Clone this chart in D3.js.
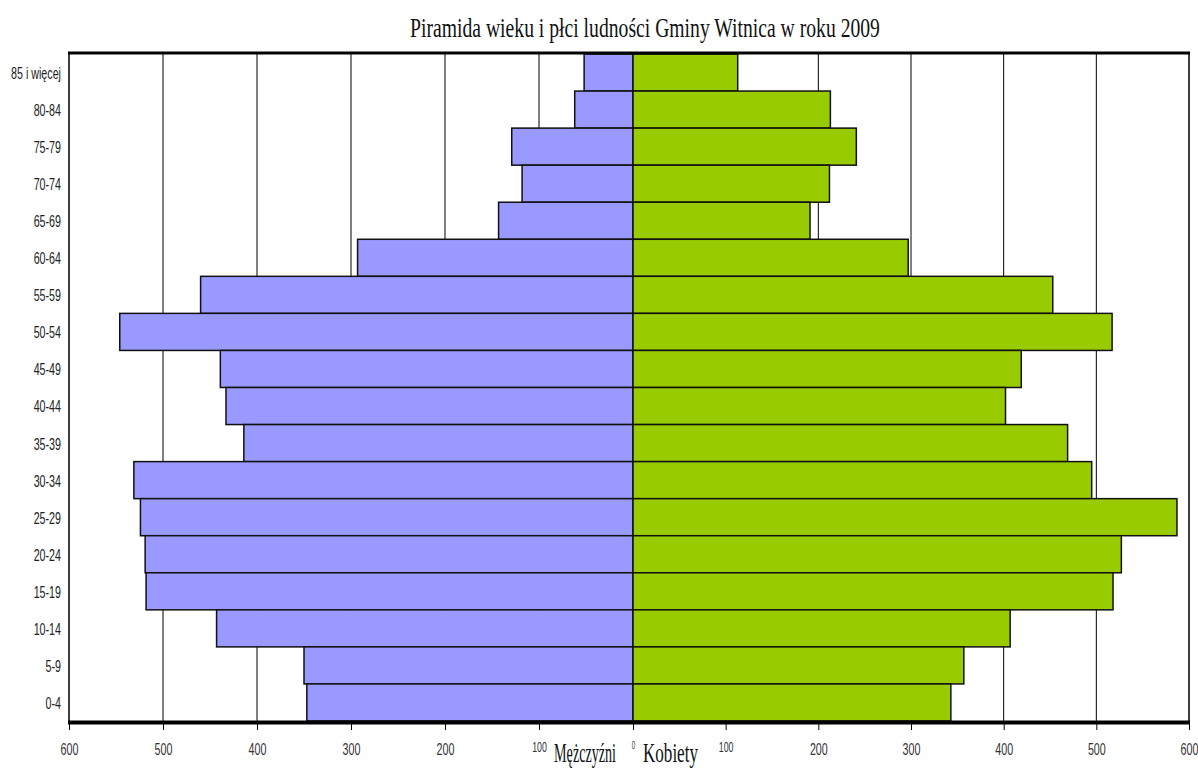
<!DOCTYPE html>
<html><head><meta charset="utf-8">
<script src="https://cdn.jsdelivr.net/npm/d3@7"></script>
<style>
html,body{margin:0;padding:0;background:#fff;}
svg{display:block;}
</style></head>
<body>
<script>
const ageGroups = ["85 i więcej","80-84","75-79","70-74","65-69","60-64","55-59","50-54","45-49","40-44","35-39","30-34","25-29","20-24","15-19","10-14","5-9","0-4"];
const male   = [52, 62, 129, 118, 143, 293, 460, 546, 439, 433, 414, 531, 524, 519, 518, 443, 350, 347];
const female = [113, 213, 241, 212, 191, 297, 453, 517, 419, 402, 469, 495, 587, 527, 518, 407, 357, 343];
const tickValues = [0, 100, 200, 300, 400, 500, 600];
const title = "Piramida wieku i płci ludności Gminy Witnica w roku 2009";
const leftLabel = "Mężczyźni";
const rightLabel = "Kobiety";

const W = 1198, H = 769;
const svg = d3.select("body").append("svg").attr("width", W).attr("height", H);

const SANS = "'Liberation Sans',Arial,sans-serif";
const SERIF = "'Liberation Serif','Times New Roman',serif";
const SQUEEZE = 0.63;

const x0 = 633, plotTop = 54, plotBottom = 721;
const xL = d3.scaleLinear().domain([0, 600]).range([x0, 69]);
const xR = d3.scaleLinear().domain([0, 600]).range([x0, 1189]);
const y = d3.scaleBand().domain(ageGroups).range([plotTop, plotBottom]).padding(0);

// gridlines
const grid = svg.append("g");
tickValues.filter(d => d > 0).forEach(d => {
  [xL(d), xR(d)].forEach(px => {
    grid.append("line").attr("x1", px).attr("x2", px).attr("y1", plotTop).attr("y2", plotBottom)
      .attr("stroke", "#000").attr("stroke-width", 1);
  });
});

// bars
svg.append("g").selectAll("rect").data(ageGroups).join("rect")
  .attr("x", (d, i) => xL(male[i]))
  .attr("width", (d, i) => xL(0) - xL(male[i]))
  .attr("y", d => y(d))
  .attr("height", y.bandwidth())
  .attr("fill", "#9999FF").attr("stroke", "#111").attr("stroke-width", 1.5);

svg.append("g").selectAll("rect").data(ageGroups).join("rect")
  .attr("x", xR(0))
  .attr("width", (d, i) => xR(female[i]) - xR(0))
  .attr("y", d => y(d))
  .attr("height", y.bandwidth())
  .attr("fill", "#99CC00").attr("stroke", "#111").attr("stroke-width", 1.5);

// frame
svg.append("line").attr("x1", 68).attr("x2", 1190).attr("y1", plotTop - 1).attr("y2", plotTop - 1)
  .attr("stroke", "#000").attr("stroke-width", 3);
svg.append("line").attr("x1", 69).attr("x2", 69).attr("y1", plotTop).attr("y2", plotBottom).attr("stroke", "#000").attr("stroke-width", 1);
svg.append("line").attr("x1", 1189).attr("x2", 1189).attr("y1", plotTop).attr("y2", plotBottom).attr("stroke", "#000").attr("stroke-width", 1);

// x axes
function styleAxis(g) {
  g.select(".domain").remove();
  g.selectAll(".tick line").attr("stroke", "#000").attr("stroke-width", 1);
  g.selectAll(".tick text").attr("fill", "#333")
    .style("font-family", SANS).style("font-size", "17px")
    .attr("x", 0).attr("y", 0).attr("dy", 0)
    .attr("transform", `translate(0,31) scale(${SQUEEZE},1)`);
  g.selectAll(".tick text").filter(d => d === 100).style("font-size", "14px")
    .attr("transform", `translate(0,28) scale(${SQUEEZE},1)`);
  g.selectAll(".tick text").filter(d => d === 0).style("font-size", "10px")
    .attr("transform", `translate(0,25) scale(${SQUEEZE},1)`);
}
svg.append("g").attr("transform", `translate(0,${plotBottom + 3})`)
  .call(d3.axisBottom(xL).tickValues(tickValues).tickSize(6).tickFormat(d3.format("d")))
  .call(styleAxis);
svg.append("g").attr("transform", `translate(0,${plotBottom + 3})`)
  .call(d3.axisBottom(xR).tickValues(tickValues.filter(d => d > 0)).tickSize(6).tickFormat(d3.format("d")))
  .call(styleAxis);

// bottom thick line
svg.append("line").attr("x1", 68).attr("x2", 1190).attr("y1", plotBottom + 1.5).attr("y2", plotBottom + 1.5)
  .attr("stroke", "#000").attr("stroke-width", 4);

// y axis
const ya = svg.append("g").attr("transform", `translate(61,0)`)
  .call(d3.axisLeft(y).tickSize(0).tickPadding(0));
ya.select(".domain").remove();
ya.selectAll("text").attr("fill", "#222").attr("x", 0).attr("dy", "0.38em")
  .attr("transform", `scale(${SQUEEZE},1)`)
  .style("font-family", SANS).style("font-size", "17px");

// squeezed text helper for free labels
function squeezedText(x, yPos, anchor, size, targetW, txt) {
  const t = svg.append("text").attr("x", 0).attr("y", 0).attr("text-anchor", anchor)
    .style("font-family", SERIF).style("font-size", size + "px")
    .attr("fill", "#111").text(txt);
  const w = t.node().getComputedTextLength();
  t.attr("transform", `translate(${x},${yPos}) scale(${targetW / w},1)`);
  return t;
}

// title
squeezedText(645, 37, "middle", 27, 470, title);

// gender labels
squeezedText(616, 762, "end", 28, 62, leftLabel);
squeezedText(643, 762, "start", 28, 55, rightLabel);
</script>
</body></html>
